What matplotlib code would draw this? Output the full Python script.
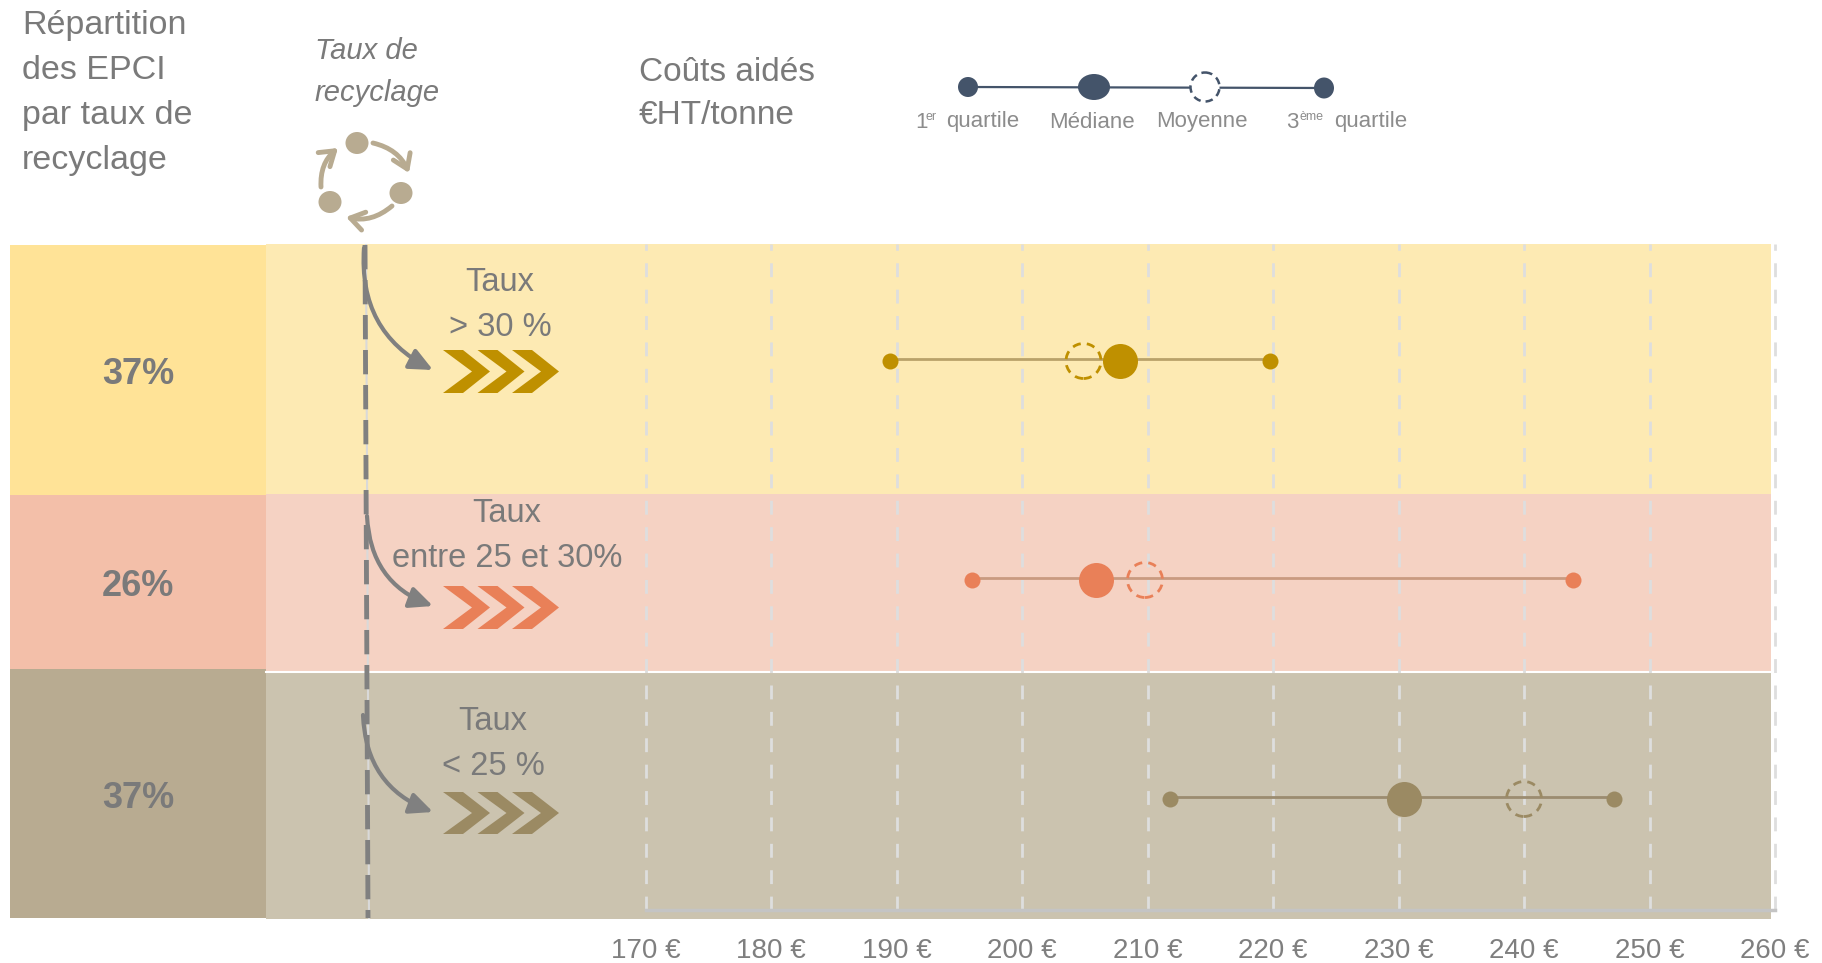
#!/usr/bin/env python3
"""Coûts aidés par taux de recyclage."""

import matplotlib
matplotlib.use("Agg")
import matplotlib.pyplot as plt
from matplotlib.patches import Ellipse, FancyArrowPatch, Polygon, Rectangle

W, H = 1822, 963

# Data
shares = ["37%", "26%", "37%"]
band_labels = ["Taux\n> 30 %", "Taux\nentre 25 et 30%", "Taux\n< 25 %"]
q1 = [189.5, 196, 211.8]
median = [207.8, 205.9, 230.4]
mean = [204.9, 209.8, 240]
q3 = [219.8, 243.9, 247.2]
ticks = [170, 180, 190, 200, 210, 220, 230, 240, 250, 260]
tick_labels = [f"{t} €" for t in ticks]

# Styles
FONT = "Liberation Sans"
GREY = "#7f7f7f"
left_colors = ["#ffe397", "#f3bfa9", "#b8ab91"]
right_colors = ["#fdeab3", "#f5d2c3", "#cbc3af"]
dot_colors = ["#bf9000", "#e98058", "#9b8a63"]
line_colors = ["#b9a26a", "#c99a80", "#9b8c70"]
row_y = [361, 580, 799]
band_tops = [244, 494, 673]
band_bottoms = [494, 672, 919]
left_tops = [245, 495, 669]
left_bottoms = [495, 669, 918]


def area(d):
    return (d * 0.72) ** 2


fig = plt.figure(figsize=(W / 100, H / 100), dpi=100)

# Pixel-space layer for the bands and the decorations
bg = fig.add_axes([0, 0, 1, 1], zorder=0)
bg.set_xlim(0, W)
bg.set_ylim(H, 0)
bg.axis("off")

for i in range(3):
    bg.add_patch(Rectangle((266, band_tops[i]), 1505, band_bottoms[i] - band_tops[i],
                           fc=right_colors[i], ec="none"))
    bg.add_patch(Rectangle((10, left_tops[i]), 256, left_bottoms[i] - left_tops[i],
                           fc=left_colors[i], ec="none"))
    bg.text(138, [375, 586, 799][i], shares[i], ha="center", va="center",
            family=FONT, weight="bold", fontsize=26, color="#7a7a7a")
bg.plot([266, 1771], [672.5, 672.5], color="white", lw=1.5)

# Main axes: real € scale
ax = fig.add_axes([645.5 / W, 1 - 910 / H, (1775 - 645.5) / W, (910 - 244) / H], zorder=1)
ax.patch.set_alpha(0)
ax.set_xlim(170, 260)
ax.set_ylim(910, 244)
ax.set_xticks(ticks)
ax.set_xticklabels(tick_labels, family=FONT, fontsize=20, color=GREY)
ax.set_yticks([])
ax.tick_params(axis="x", length=0, pad=20)
ax.grid(axis="x", color="#dedede", lw=2, ls=(0, (5, 4.5)))
for g in ax.get_xgridlines():
    g.set_clip_on(False)
ax.set_axisbelow(True)
for s in ["top", "left", "right"]:
    ax.spines[s].set_visible(False)
ax.spines["bottom"].set_color("#c4c4c4")
ax.spines["bottom"].set_linewidth(2.5)

for i in range(3):
    c = dot_colors[i]
    ax.plot([q1[i], q3[i]], [row_y[i] - 2, row_y[i] - 2], color=line_colors[i], lw=2, zorder=3)
    ax.scatter([q1[i], q3[i]], [row_y[i], row_y[i]], s=area(16), color=c, lw=0, zorder=4)
    ax.scatter([median[i]], [row_y[i]], s=area(35), color=c, lw=0, zorder=4)
    ax.scatter([mean[i]], [row_y[i]], s=area(35), facecolors="none", edgecolors=c,
               linestyles=(0, (3, 2.2)), lw=2, zorder=4)

# Overlay for annotations
top = fig.add_axes([0, 0, 1, 1], zorder=2)
top.set_xlim(0, W)
top.set_ylim(H, 0)
top.axis("off")
top.patch.set_alpha(0)

# Vertical dashed line
top.plot([366, 369], [245, 918], color="#d9d9d9", lw=1.5, zorder=1)
top.plot([365, 368], [245, 918], color="#808080", lw=3.5, ls=(0, (5, 2.2)), zorder=2)

# Curved arrows
for x0, y0, y1 in [(364, 248, 370), (367, 516, 606), (363, 715, 812)]:
    top.add_patch(FancyArrowPatch((x0, y0), (433, y1), connectionstyle="arc3,rad=0.33",
                                  arrowstyle="-|>,head_length=7,head_width=3.2",
                                  mutation_scale=2, color="#808080", lw=3, shrinkA=0,
                                  shrinkB=0, zorder=3))

# Chevrons
for i, (y0, y1) in enumerate([(350, 393), (586, 629), (792, 834)]):
    ym = (y0 + y1) / 2
    for k in range(3):
        dx = 443 + 34.5 * k
        top.add_patch(Polygon([(dx, y0), (dx + 20, y0), (dx + 47, ym), (dx + 20, y1),
                               (dx, y1), (dx + 29, ym)], fc=dot_colors[i], ec="none", zorder=3))

# Band labels
for txt, x, y in zip(band_labels, [500, 507, 493], [305, 536, 744]):
    top.text(x, y, txt, ha="center", va="center", family=FONT, fontsize=23.5,
             color="#7a7a7a", linespacing=1.56)

# Column headers
top.text(22, 93, "Répartition\ndes EPCI\npar taux de\nrecyclage", ha="left", va="center",
         family=FONT, fontsize=24.5, color="#7a7a7a", linespacing=1.58)
top.text(315, 72, "Taux de\nrecyclage", ha="left", va="center", family=FONT, style="italic",
         fontsize=21, color="#7a7a7a", linespacing=1.62)
top.text(639, 94, "Coûts aidés\n€HT/tonne", ha="left", va="center", family=FONT,
         fontsize=24, color="#7a7a7a", linespacing=1.53)

# Recycling icon
ICON = "#b8ab91"
for (cx, cy) in [(357, 143), (401, 193), (330, 202)]:
    top.add_patch(Ellipse((cx, cy), 23, 22, fc=ICON, ec="none"))
for a, b in [((373, 143), (409, 173)), ((392, 206), (346, 217)), ((321, 187), (338, 148))]:
    top.add_patch(FancyArrowPatch(a, b, connectionstyle="arc3,rad=-0.25",
                                  arrowstyle="->,head_length=4.5,head_width=3",
                                  mutation_scale=2.2, color=ICON, lw=3.5, shrinkA=0, shrinkB=0))

# Legend
LEG = "#44546a"
top.plot([968, 1324], [87, 88], color=LEG, lw=1.6, zorder=1)
for cx, cy, w, h in [(968, 87, 20, 20), (1094, 87, 32, 26), (1324, 88, 20, 21)]:
    top.add_patch(Ellipse((cx, cy), w, h, fc=LEG, ec="none", zorder=2))
top.add_patch(Ellipse((1205, 87), 29, 29, fc="white", ec=LEG, lw=1.8, ls=(0, (3, 2)), zorder=2))

leg_kw = dict(family=FONT, color="#8c8c8c", va="center")
top.text(915, 122, "1", fontsize=16, **leg_kw)
top.text(926, 117, "er", fontsize=9, **leg_kw)
top.text(946, 122, "quartile", fontsize=16, **leg_kw)
top.text(1049, 122, "Médiane", fontsize=16, **leg_kw)
top.text(1156, 122, "Moyenne", fontsize=16, **leg_kw)
top.text(1286, 122, "3", fontsize=16, **leg_kw)
top.text(1299, 117, "ème", fontsize=9, **leg_kw)
top.text(1334, 122, "quartile", fontsize=16, **leg_kw)

fig.savefig("out.png", dpi=100, facecolor="white")
